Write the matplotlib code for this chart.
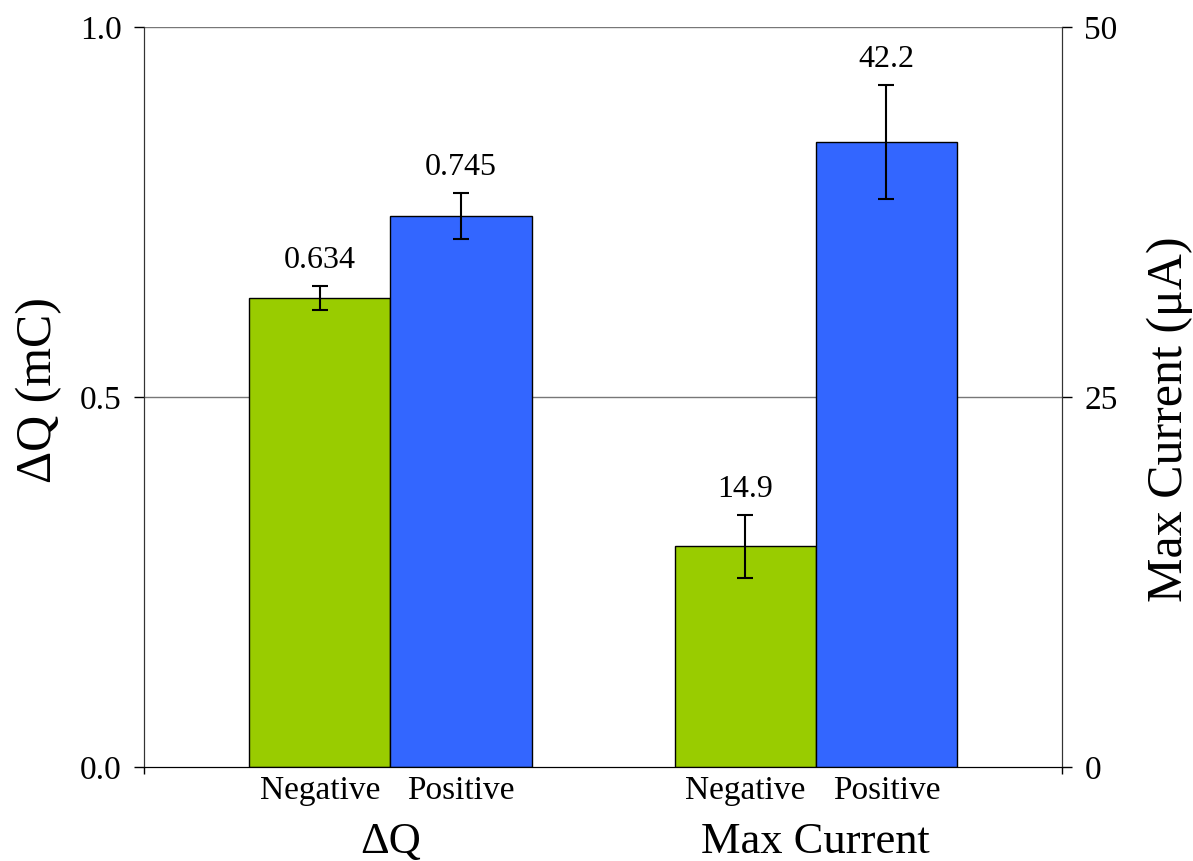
import matplotlib.pyplot as plt
import numpy as np
from matplotlib.transforms import blended_transform_factory

plt.rcParams["font.family"] = ["Liberation Serif", "DejaVu Serif"]

groups = ["\u0394Q", "Max Current"]
categories = ["Negative", "Positive"]
dq_values = [0.634, 0.745]
dq_errors = [0.0165, 0.031]
current_values = [14.9, 42.2]
current_errors = [2.15, 3.85]
dq_labels = ["0.634", "0.745"]
current_labels = ["14.9", "42.2"]
colors = ["#99CC00", "#3366FF"]

width = 0.332
offsets = [-width / 2, width / 2]

fig = plt.figure(figsize=(11.93, 8.61), dpi=100)
ax = fig.add_axes([0.1207, 0.1092, 0.7696, 0.8594])
ax2 = ax.twinx()

ax.set_xlim(-0.579, 1.579)
ax.set_ylim(0, 1.0)
ax2.set_ylim(0, 50)

for ypos in [0.5, 1.0]:
    ax.axhline(ypos, color="#777777", linewidth=1.0, zorder=0)

for i in range(2):
    ax.bar(0 + offsets[i], dq_values[i], width, color=colors[i], edgecolor="black",
           linewidth=1.0, zorder=2)
    ax.errorbar(0 + offsets[i], dq_values[i], yerr=dq_errors[i], fmt="none", ecolor="black",
                elinewidth=1.5, capsize=6, capthick=1.5, zorder=3)
    ax.annotate(dq_labels[i], (0 + offsets[i], dq_values[i] + dq_errors[i]),
                xytext=(0, 8), textcoords="offset points", ha="center", va="bottom",
                fontsize=23)
    ax2.bar(1 + offsets[i], current_values[i], width, color=colors[i], edgecolor="black",
            linewidth=1.0, zorder=2)
    ax2.errorbar(1 + offsets[i], current_values[i], yerr=current_errors[i], fmt="none",
                 ecolor="black", elinewidth=1.5, capsize=6, capthick=1.5, zorder=3)
    ax2.annotate(current_labels[i], (1 + offsets[i], current_values[i] + current_errors[i]),
                 xytext=(0, 8), textcoords="offset points", ha="center", va="bottom",
                 fontsize=23)

ax.set_yticks([0.0, 0.5, 1.0])
ax.set_yticklabels(["0.0", "0.5", "1.0"], fontsize=24)
ax2.set_yticks([0, 25, 50])
ax2.set_yticklabels(["0", "25", "50"], fontsize=24)
ax.tick_params(axis="y", direction="out", length=7, width=1.0, pad=9)
ax2.tick_params(axis="y", direction="out", length=7, width=1.0, pad=9)

centers = [g + o for g in range(2) for o in offsets]
ax.set_xticks(centers)
ax.set_xticklabels(categories * 2, fontsize=24)
ax.tick_params(axis="x", length=0, pad=6)
ax.set_xticks([-0.579, 1.579], minor=True)
ax.tick_params(axis="x", which="minor", direction="out", length=5, width=1.0)

trans = blended_transform_factory(ax.transData, ax.transAxes)
for g, name in enumerate(groups):
    ax.text(g, -0.075, name, transform=trans, ha="center", va="top", fontsize=32)

ax.set_ylabel("\u0394Q (mC)", fontsize=36)
ax2.set_ylabel("Max Current (\u03bcA)", fontsize=36)
ax.yaxis.set_label_coords(-0.089, 0.51)
ax2.yaxis.set_label_coords(1.0915, 0.47)

for a in (ax, ax2):
    a.spines["top"].set_visible(False)
    a.spines["left"].set_color("#333333")
    a.spines["right"].set_color("#333333")
    a.spines["bottom"].set_color("black")

fig.savefig("out.png", dpi=100)
